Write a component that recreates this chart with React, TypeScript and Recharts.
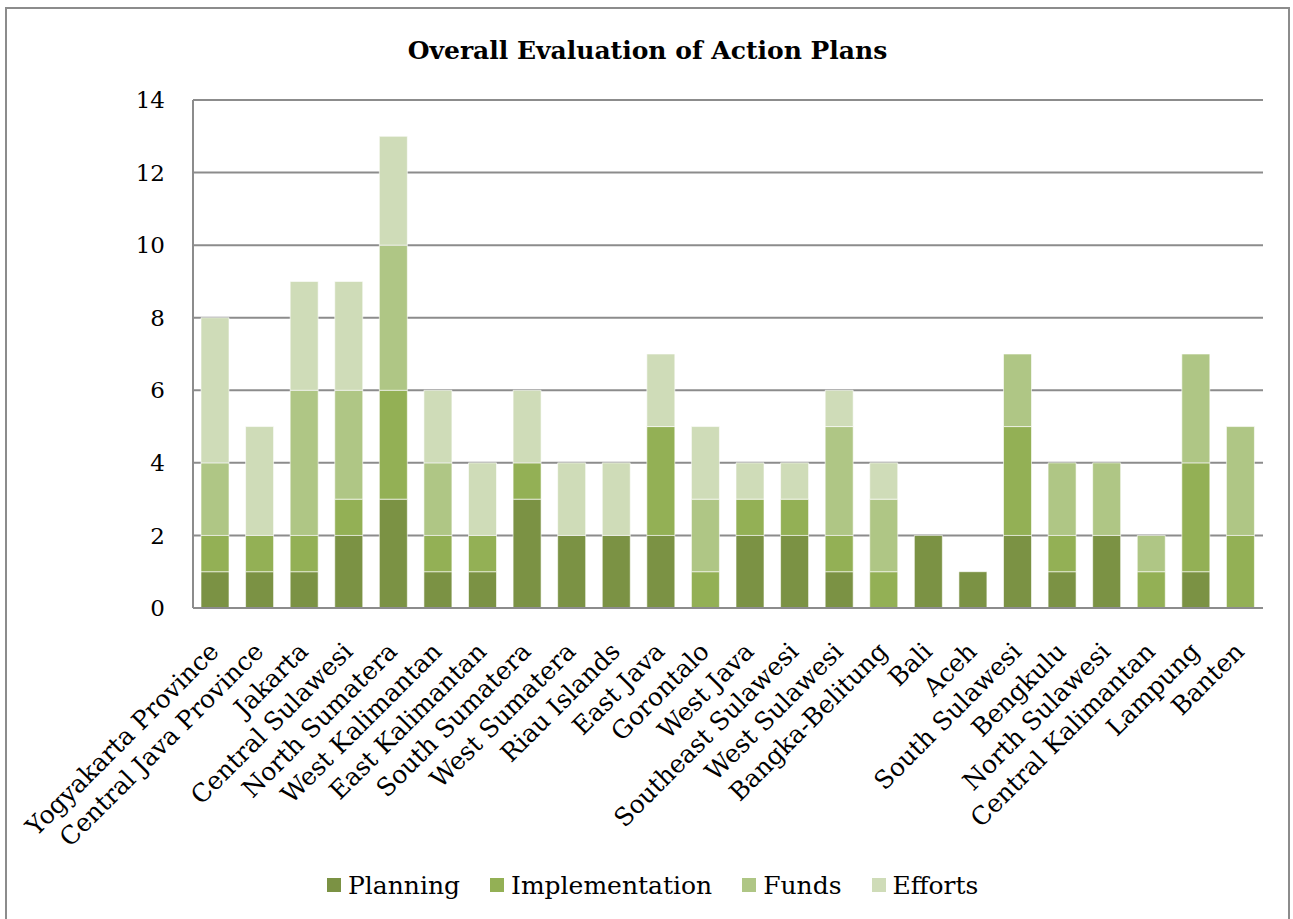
import React from "react";
import { BarChart, Bar, XAxis, YAxis, CartesianGrid, Legend } from "recharts";

const categories = [
  "Yogyakarta Province", "Central Java Province", "Jakarta", "Central Sulawesi",
  "North Sumatera", "West Kalimantan", "East Kalimantan", "South Sumatera",
  "West Sumatera", "Riau Islands", "East Java", "Gorontalo", "West Java",
  "Southeast Sulawesi", "West Sulawesi", "Bangka-Belitung", "Bali", "Aceh",
  "South Sulawesi", "Bengkulu", "North Sulawesi", "Central Kalimantan",
  "Lampung", "Banten",
];
const planning = [1, 1, 1, 2, 3, 1, 1, 3, 2, 2, 2, 0, 2, 2, 1, 0, 2, 1, 2, 1, 2, 0, 1, 0];
const implementation = [1, 1, 1, 1, 3, 1, 1, 1, 0, 0, 3, 1, 1, 1, 1, 1, 0, 0, 3, 1, 0, 1, 3, 2];
const funds = [2, 0, 4, 3, 4, 2, 0, 0, 0, 0, 0, 2, 0, 0, 3, 2, 0, 0, 2, 2, 2, 1, 3, 3];
const efforts = [4, 3, 3, 3, 3, 2, 2, 2, 2, 2, 2, 2, 1, 1, 1, 1, 0, 0, 0, 0, 0, 0, 0, 0];
const yTicks = [0, 2, 4, 6, 8, 10, 12, 14];

const seriesNames = ["Planning", "Implementation", "Funds", "Efforts"];
const seriesKeys = ["planning", "implementation", "funds", "efforts"];
const seriesColors = ["#7b9244", "#93b055", "#afc685", "#cfdcb8"];

const data = categories.map((c, i) => ({
  name: c,
  planning: planning[i],
  implementation: implementation[i],
  funds: funds[i],
  efforts: efforts[i],
}));

const FONT = "'DejaVu Serif', serif";

const XTick = (props: any) => {
  const { x, y, payload } = props;
  return (
    <g transform={`translate(${x + 5},${y + 37})`}>
      <text
        x={0}
        y={0}
        transform="rotate(-45)"
        textAnchor="end"
        fontFamily={FONT}
        fontSize={25}
        fill="#000"
      >
        {payload.value}
      </text>
    </g>
  );
};

const LegendContent = () => (
  <div
    style={{
      height: 40,
      display: "flex",
      justifyContent: "flex-start",
      alignItems: "center",
      fontFamily: FONT,
      fontSize: 25,
      color: "#000",
      paddingLeft: 194,
    }}
  >
    {seriesNames.map((n, i) => (
      <div
        key={n}
        style={{
          display: "flex",
          alignItems: "center",
          marginRight: i < seriesNames.length - 1 ? 30 : 0,
        }}
      >
        <span
          style={{
            display: "inline-block",
            width: 14,
            height: 14,
            background: seriesColors[i],
            marginRight: 7,
          }}
        />
        <span>{n}</span>
      </div>
    ))}
  </div>
);

export default function App() {
  return (
    <div
      style={{
        position: "fixed",
        top: 7,
        left: 5,
        width: 1281,
        height: 940,
        border: "2px solid #8c8c8c",
        background: "#fff",
        boxSizing: "content-box",
      }}
    >
      <div
        style={{
          position: "absolute",
          top: 27,
          left: 0,
          width: "100%",
          textAlign: "center",
          fontFamily: FONT,
          fontWeight: "bold",
          fontSize: 25,
          lineHeight: "30px",
          color: "#000",
        }}
      >
        Overall Evaluation of Action Plans
      </div>
      <div style={{ position: "absolute", top: 1, left: 1 }}>
        <BarChart
          width={1280}
          height={905}
          data={data}
          margin={{ top: 90, right: 25, bottom: 10, left: 125 }}
          barSize={28}
        >
          <CartesianGrid vertical={false} stroke="#8c8c8c" strokeWidth={2} />
          <XAxis
            dataKey="name"
            interval={0}
            height={257}
            tick={<XTick />}
            tickLine={false}
            axisLine={{ stroke: "#8c8c8c", strokeWidth: 2 }}
          />
          <YAxis
            width={60}
            domain={[0, 14]}
            ticks={yTicks}
            interval={0}
            tickLine={false}
            tickMargin={22}
            axisLine={{ stroke: "#8c8c8c", strokeWidth: 2 }}
            tick={{ fontFamily: FONT, fontSize: 23, fill: "#000" }}
          />
          <Legend verticalAlign="bottom" content={<LegendContent />} />
          {seriesKeys.map((k, i) => (
            <Bar
              key={k}
              dataKey={k}
              name={seriesNames[i]}
              stackId="a"
              fill={seriesColors[i]}
              stroke="#ffffff"
              strokeOpacity={0.6}
              strokeWidth={1}
              isAnimationActive={false}
            />
          ))}
        </BarChart>
      </div>
    </div>
  );
}
